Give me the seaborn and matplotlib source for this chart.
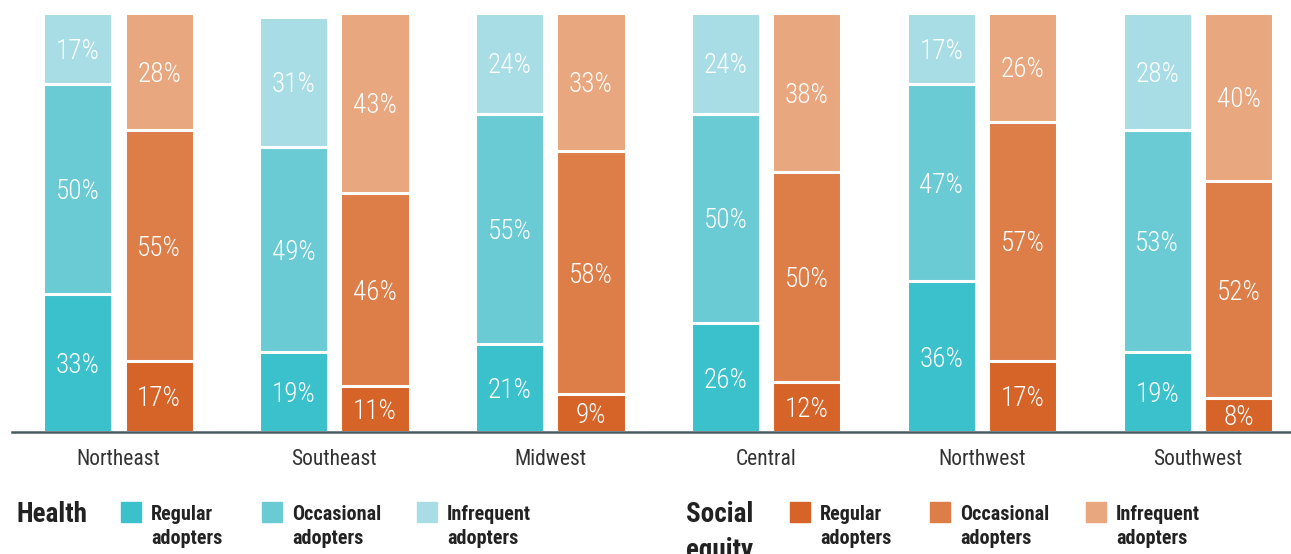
import pandas as pd
import matplotlib
matplotlib.use("Agg")
import matplotlib.pyplot as plt
import seaborn as sns
from matplotlib.patches import Rectangle

# data (percent of respondents)
regions = ["Northeast", "Southeast", "Midwest", "Central", "Northwest", "Southwest"]
groups = ["Health", "Social equity"]
levels = ["Regular", "Occasional", "Infrequent"]

health_regular = [33, 19, 21, 26, 36, 19]
health_occasional = [50, 49, 55, 50, 47, 53]
health_infrequent = [17, 31, 24, 24, 17, 28]

social_regular = [17, 11, 9, 12, 17, 8]
social_occasional = [55, 46, 58, 50, 57, 52]
social_infrequent = [28, 43, 33, 38, 26, 40]

health_colors = ["#3bc1cc", "#6bcbd4", "#a8dde5"]
social_colors = ["#d66328", "#dd7d48", "#e8a77e"]

W, H = 1291, 554

sns.set_theme(style="white")
plt.rcParams['font.family'] = ['Roboto Condensed', 'Roboto', 'DejaVu Sans']

# long table with cumulative bottoms/tops
rows = []
series = {
    "Health": [health_regular, health_occasional, health_infrequent],
    "Social equity": [social_regular, social_occasional, social_infrequent],
}
for g in groups:
    for i, r in enumerate(regions):
        bottom = 0
        for lvl, vals in zip(levels, series[g]):
            v = vals[i]
            rows.append({"region": r, "group": g, "level": lvl, "value": v,
                         "bottom": bottom, "top": bottom + v})
            bottom += v
df = pd.DataFrame(rows)

fig = plt.figure(figsize=(W / 100, H / 100), dpi=100)
ax = fig.add_axes([12 / W, 1 - 432 / H, (1290 - 12) / W, 432 / H])

bar_width = 0.754
# draw from the top layer down so each layer covers the one beneath
for k in [2, 1, 0]:
    lvl = levels[k]
    sub = df[df["level"] == lvl]
    sns.barplot(data=sub, x="region", y="top", hue="group", order=regions,
                hue_order=groups, palette=[health_colors[k], social_colors[k]],
                saturation=1, width=bar_width, gap=0.15, errorbar=None,
                edgecolor="white", linewidth=2.2, legend=False, ax=ax)

# segment labels (nudged a little below the segment middle, as in the original)
offset = bar_width / 4
for _, row in df.iterrows():
    i = regions.index(row["region"])
    x = i - offset if row["group"] == "Health" else i + offset
    ax.text(x, row["bottom"] + row["value"] / 2 - 0.6, f"{row['value']}%",
            ha="center", va="center", color="white", fontsize=19.5,
            fontweight="light")

ax.set_xlim(-0.493, 5.426)
ax.set_ylim(0, 103.1)
ax.set_xlabel("")
ax.set_ylabel("")
ax.set_yticks([])
ax.tick_params(axis="x", length=0, pad=12.5, labelsize=15.5, labelcolor="#333333")
for s in ["top", "left", "right"]:
    ax.spines[s].set_visible(False)
ax.spines["bottom"].set_color("#4a5a63")
ax.spines["bottom"].set_linewidth(1.8)
ax.spines["bottom"].set_zorder(5)


# legend drawn in figure pixel coordinates
def fx(x):
    return x / W


def fy(y):
    return 1 - y / H


def legend_block(title_lines, title_x, colors, items):
    for j, line in enumerate(title_lines):
        fig.text(fx(title_x), fy(522 + 36 * j), line, fontsize=19.5,
                 fontweight="bold", color="#222222", va="baseline", ha="left")
    for c, (sx, label) in zip(colors, items):
        fig.add_artist(Rectangle((fx(sx), fy(522)), 20 / W, 20 / H,
                                 transform=fig.transFigure, color=c))
        fig.text(fx(sx + 30), fy(520), label, fontsize=14.5, fontweight="bold",
                 color="#222222", va="baseline", ha="left")
        fig.text(fx(sx + 30), fy(544), "adopters", fontsize=14.5,
                 fontweight="bold", color="#222222", va="baseline", ha="left")


legend_block(["Health"], 17, health_colors,
             [(121, "Regular"), (262, "Occasional"), (417, "Infrequent")])
# the second title line runs past the bottom edge in the original too
legend_block(["Social", "equity"], 686, social_colors,
             [(790, "Regular"), (930, "Occasional"), (1086, "Infrequent")])

fig.savefig("out.png", dpi=100)
